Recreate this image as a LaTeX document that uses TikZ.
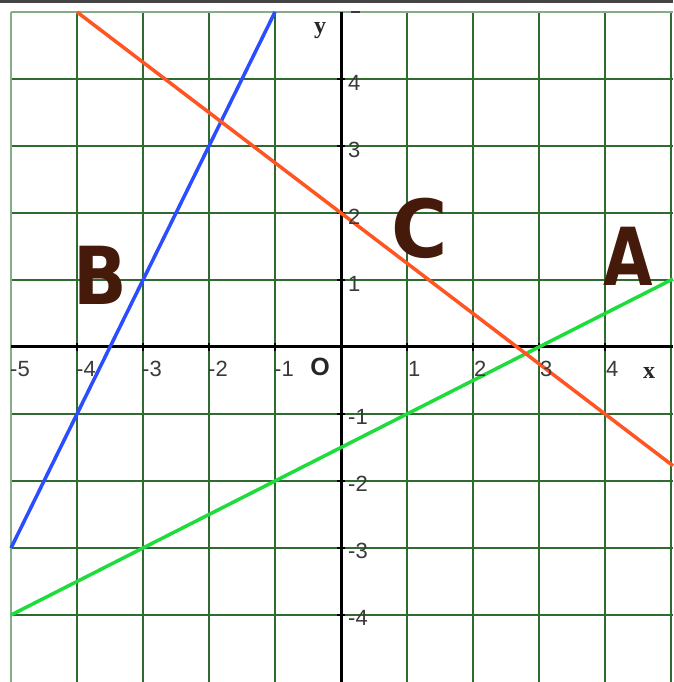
\documentclass[tikz,border=0pt]{standalone}
\usepackage{fontspec}
\setmainfont{Liberation Sans}
\newfontfamily\serifbold{Liberation Serif}
\newfontfamily\bigfont{DejaVu Sans}
\definecolor{gridgreen}{HTML}{2F6A2F}
\definecolor{gridlight}{HTML}{86AE86}
\definecolor{topbar}{HTML}{454545}
\definecolor{labgray}{HTML}{3A3A3A}
\definecolor{bigbrown}{HTML}{461A0A}
\definecolor{lineAcol}{HTML}{1EDC3C}
\definecolor{lineBcol}{HTML}{2B4CFF}
\definecolor{lineCcol}{HTML}{FF5522}
\tikzset{
  gridline/.style={draw=gridgreen, line width=1.8pt},
  gridedge/.style={draw=gridlight, line width=1.2pt},
  axisline/.style={draw=black, line width=3pt},
  tickmark/.style={draw=black, line width=1.6pt},
  plotline/.style={line width=3.5pt},
  numlab/.style={inner sep=0pt, text=labgray, font=\fontsize{22}{26}\selectfont},
  axlab/.style={inner sep=0pt, text=black!85, font=\serifbold\fontsize{24}{28}\selectfont\bfseries},
  biglab/.style={inner sep=0pt, text=bigbrown, font=\bigfont\fontsize{80}{82}\selectfont\bfseries}
}
\begin{document}
\begin{tikzpicture}[x=66pt,y=67pt]
\useasboundingbox (-341pt,-335pt) rectangle (332pt,347pt);
\fill[white] (-341pt,-335pt) rectangle (332pt,347pt);
\fill[topbar] (-341pt,344pt) rectangle (332pt,347pt);
% grid
\foreach \i in {-4,...,5} \draw[gridline] (\i,-5) -- (\i,5);
\foreach \j in {-4,...,4} \draw[gridline] (-5,\j) -- (5.03,\j);
\draw[gridedge] (-5,-5) -- (-5,5);
\draw[gridedge] (-5,5) -- (5.03,5);
% axes
\draw[axisline] (-5,0) -- (5.03,0);
\draw[axisline] (0,5) -- (0,-5);
\foreach \i in {-4,...,4} \draw[tickmark] ([yshift=-4pt]\i,0) -- ([yshift=4pt]\i,0);
\foreach \j in {-4,...,4} \draw[tickmark] ([xshift=-4pt]0,\j) -- ([xshift=4pt]0,\j);
\draw[draw=labgray, line width=2pt] ([xshift=10pt]0,5) -- ([xshift=19pt]0,5);
% plotted lines
\draw[plotline, lineAcol] (-5,-4) -- (5.03,1.015);
\draw[plotline, lineBcol] (-5,-3) -- (-1,5);
\draw[plotline, lineCcol] (-4,5) -- (5.03,-1.7725);
% x labels
\foreach \i in {-5,...,-1} \node[numlab, anchor=north west] (xl\i) at ([xshift=-1pt,yshift=-14pt]\i,0) {\i};
\foreach \i in {1,...,4} \node[numlab, anchor=north west] (xl\i) at ([xshift=1pt,yshift=-14pt]\i,0) {\i};
% y labels
\foreach \j in {-4,...,-1} \node[numlab, anchor=north west] (yl\j) at ([xshift=7pt,yshift=5pt]0,\j) {\j};
\foreach \j in {1,...,4} \node[numlab, anchor=north west] (yl\j) at ([xshift=7pt,yshift=4pt]0,\j) {\j};
% axis names
\node[inner sep=0pt, text=black!85, font=\fontsize{25}{28}\selectfont\bfseries] (origin) at (-21pt,-20pt) {O};
\node[axlab] (xname) at (308pt,-26pt) {x};
\node[axlab] (yname) at (-21pt,316pt) {y};
% big letters
\node[biglab] (labA) at (287pt,91pt) {\scalebox{0.8}[1]{A}};
\node[biglab] (labB) at (-241pt,72pt) {\scalebox{0.88}[1]{B}};
\node[biglab] (labC) at (79pt,119pt) {\scalebox{0.96}[1]{C}};
\end{tikzpicture}
\end{document}
